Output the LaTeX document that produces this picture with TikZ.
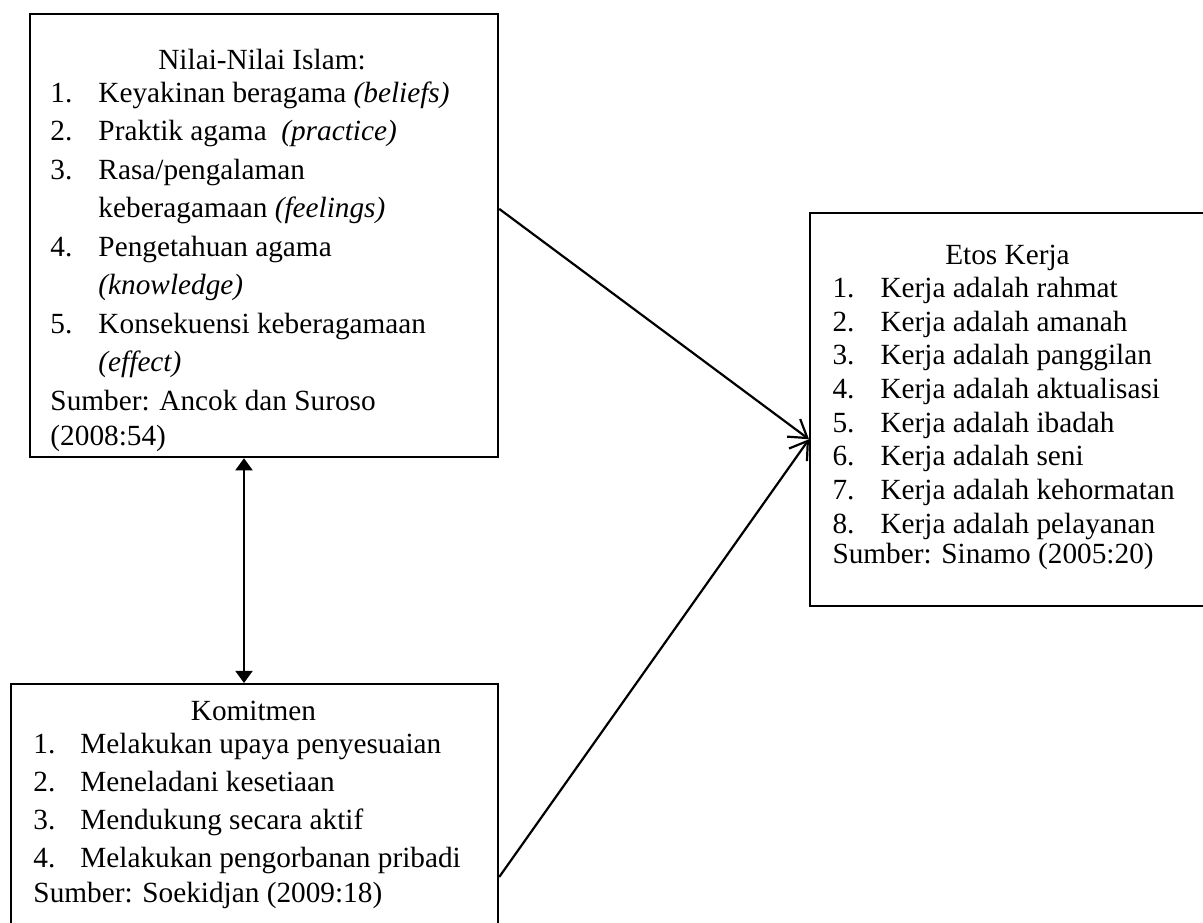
\documentclass[tikz,border=0pt]{standalone}
\usepackage{fontspec}
\setmainfont{Liberation Serif}
\usepackage{array}
\usetikzlibrary{calc,arrows.meta}
\newlength{\px}
\setlength{\px}{0.41pt}
\newcommand{\Miring}[1]{\textit{#1}}
\tikzset{
  kotak/.style={draw,line width=0.9pt,inner sep=0pt,anchor=north west},
  isi/.style={inner sep=0pt,anchor=base west},
  panah/.style={line width=0.9pt,-{Straight Barb[length=7pt,width=9pt]}},
  duapanah/.style={line width=0.9pt,{Triangle[length=5pt,width=7pt]}-{Triangle[length=5pt,width=7pt]}}
}

\begin{document}
\begin{tikzpicture}[x=\px,y=-\px]
\useasboundingbox (0,0) rectangle (1203,922);
\node[kotak,minimum width=468*\px,minimum height=443*\px] (nilai) at (29,13) {};
\node[kotak,minimum width=487*\px,minimum height=260*\px] (komitmen) at (10,683) {};
\node[kotak,minimum width=400*\px,minimum height=393*\px] (etos) at (809,212) {};

\node[isi] (nilaiIsi) at (50,70) {\fontsize{12}{15.8}\selectfont
\begin{tabular}[t]{@{}p{48\px}@{}p{375\px}@{}}
\multicolumn{2}{@{}c@{}}{Nilai-Nilai Islam:}\\[-6.5\px]
1. & Keyakinan beragama \Miring{(beliefs)}\\
2. & Praktik agama~ \Miring{(practice)}\\
3. & Rasa/pengalaman\\
   & keberagamaan \Miring{(feelings)}\\
4. & Pengetahuan agama\\
   & \Miring{(knowledge)}\\
5. & Konsekuensi keberagamaan\\
   & \Miring{(effect)}\\
\multicolumn{2}{@{}l@{}}{Sumber: Ancok dan Suroso}\\[-3.5\px]
\multicolumn{2}{@{}l@{}}{(2008:54)}
\end{tabular}};

\node[isi] (komitmenIsi) at (33,720) {\fontsize{12}{15.6}\selectfont
\begin{tabular}[t]{@{}p{47\px}@{}p{393\px}@{}}
\multicolumn{2}{@{}c@{}}{Komitmen}\\[-5\px]
1. & Melakukan upaya penyesuaian\\
2. & Meneladani kesetiaan\\
3. & Mendukung secara aktif\\
4. & Melakukan pengorbanan pribadi\\[-3\px]
\multicolumn{2}{@{}l@{}}{Sumber: Soekidjan (2009:18)}
\end{tabular}};

\node[isi] (etosIsi) at (832,264) {\fontsize{12}{13.8}\selectfont
\begin{tabular}[t]{@{}p{48\px}@{}p{302\px}@{}}
\multicolumn{2}{@{}c@{}}{Etos Kerja}\\
1. & Kerja adalah rahmat\\
2. & Kerja adalah amanah\\
3. & Kerja adalah panggilan\\
4. & Kerja adalah aktualisasi\\
5. & Kerja adalah ibadah\\
6. & Kerja adalah seni\\
7. & Kerja adalah kehormatan\\
8. & Kerja adalah pelayanan\\[-3\px]
\multicolumn{2}{@{}l@{}}{Sumber: Sinamo (2005:20)}
\end{tabular}};

\coordinate (keluarA) at ($(nilai.north east)!0.44!(nilai.south east)$);
\coordinate (keluarB) at ($(komitmen.north east)+(0,194)$);
\coordinate (masuk) at ($(etos.north west)!0.575!(etos.south west)$);
\coordinate (atas) at ($(nilai.south west)+(215,0)$);
\draw[panah] (keluarA) -- (masuk);
\draw[panah] (keluarB) -- (masuk);
\draw[duapanah] (atas) -- (atas |- komitmen.north);
\end{tikzpicture}
\end{document}
